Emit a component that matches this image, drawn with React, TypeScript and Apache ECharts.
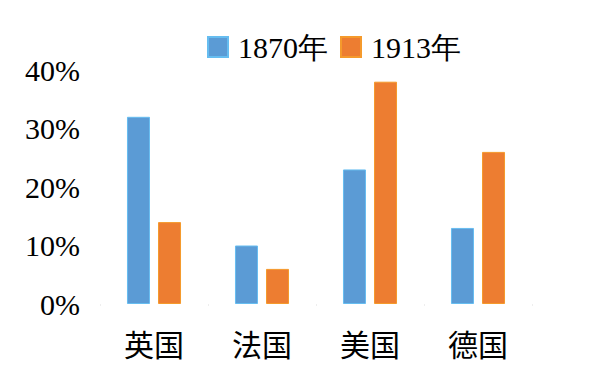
import React, { useEffect, useRef } from "react";
import * as echarts from "echarts";

const categories = ["英国", "法国", "美国", "德国"];
const series1870 = [32, 10, 23, 13];
const series1913 = [14, 6, 38, 26];
const seriesNames = ["1870年", "1913年"];

const SERIF = "'Liberation Serif', 'Times New Roman', serif";

export default function App() {
  const ref = useRef<HTMLDivElement>(null);
  useEffect(() => {
    const chart = echarts.init(ref.current!, null, { renderer: "svg" });
    chart.setOption({
      animation: false,
      backgroundColor: "#fff",
      legend: {
        left: 202,
        top: 27,
        itemWidth: 20,
        itemHeight: 20,
        itemGap: 12,
        icon: "rect",
        textStyle: { fontFamily: SERIF, fontSize: 30, color: "#000", padding: [0, 0, 0, 5] },
        data: seriesNames,
      },
      grid: { left: 100, right: 59, top: 70, bottom: 75 },
      xAxis: {
        type: "category",
        data: categories,
        axisLine: { show: false },
        axisTick: { show: true, length: 2, lineStyle: { color: "#eeeeee" } },
        axisLabel: {
          margin: 24,
          fontSize: 30,
          color: "#000",
          fontFamily: "'Noto Sans CJK SC'",
        },
      },
      yAxis: {
        type: "value",
        min: 0,
        max: 40,
        interval: 10,
        splitLine: { show: false },
        axisLine: { show: false },
        axisTick: { show: false },
        axisLabel: {
          margin: 20,
          fontSize: 30,
          color: "#000",
          fontFamily: SERIF,
          formatter: "{value}%",
        },
      },
      series: [
        {
          name: seriesNames[0],
          type: "bar",
          data: series1870,
          barWidth: 23,
          barGap: "35%",
          itemStyle: { color: "#5B9BD5", borderColor: "#66bdf0", borderWidth: 1 },
        },
        {
          name: seriesNames[1],
          type: "bar",
          data: series1913,
          barWidth: 23,
          itemStyle: { color: "#ED7D31", borderColor: "#f59a2c", borderWidth: 1 },
        },
      ],
    });
    return () => chart.dispose();
  }, []);
  return <div ref={ref} style={{ width: 591, height: 379, position: "absolute", left: 0, top: 0 }} />;
}
